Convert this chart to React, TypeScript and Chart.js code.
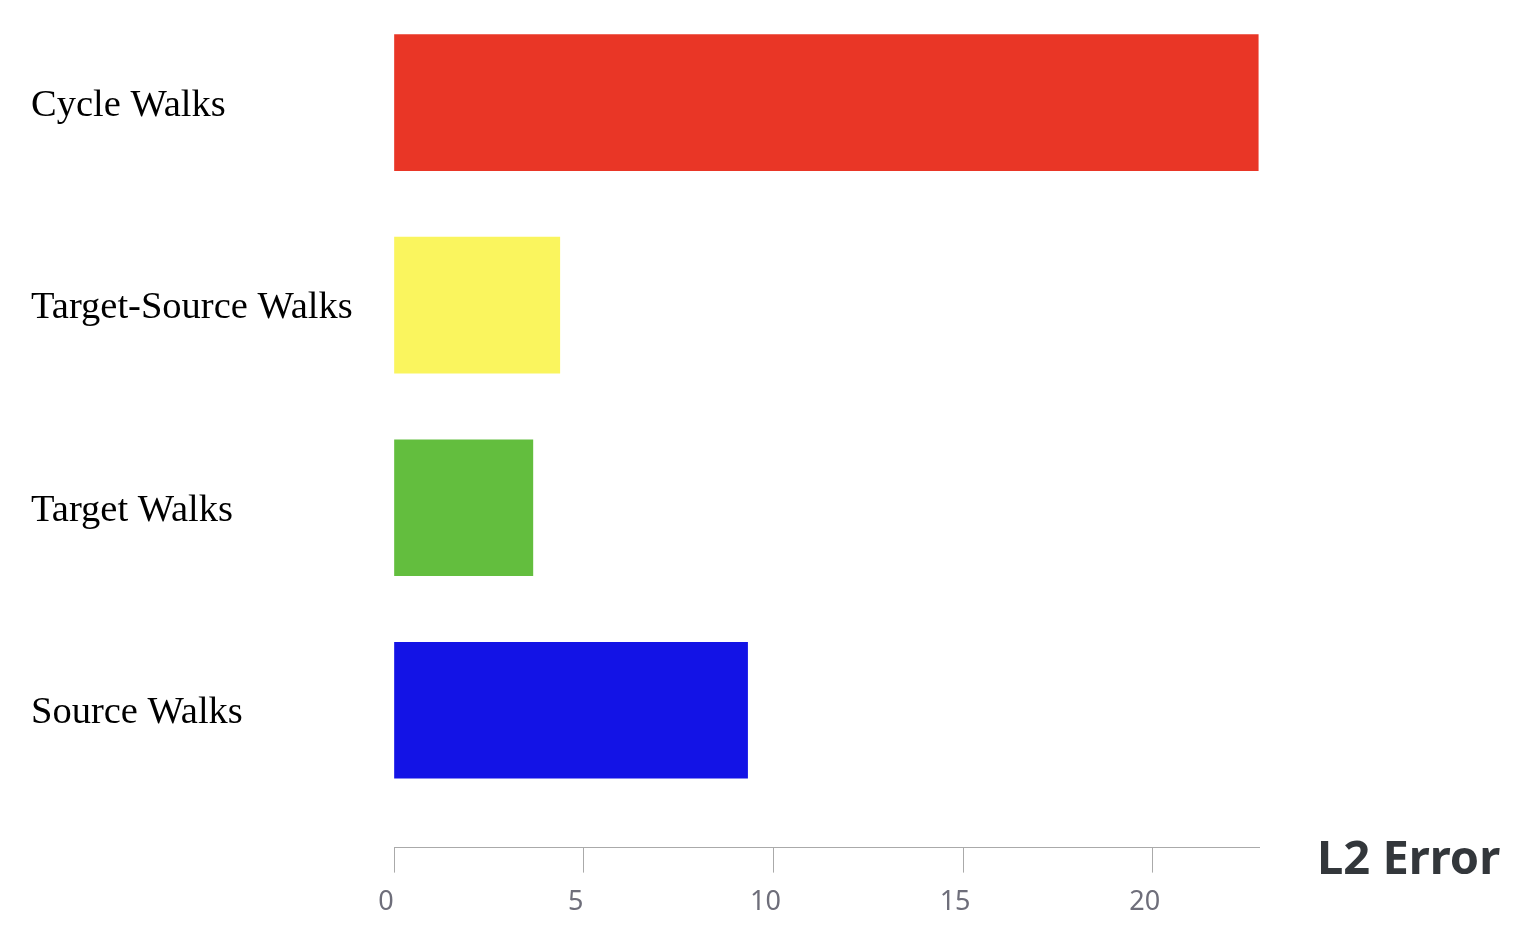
import React, { useEffect, useRef } from "react";
import { Chart, registerables } from "chart.js";

Chart.register(...registerables);

const categories: string[] = ["Cycle Walks", "Target-Source Walks", "Target Walks", "Source Walks"];
const values: number[] = [22.78, 4.37, 3.66, 9.32];
const barColors: string[] = ["#E93626", "#FAF55E", "#63BE3E", "#1313E6"];
const xTicks: number[] = [0, 5, 10, 15, 20];
const xTitle = "L2 Error";

const titlePlugin = {
  id: "xTitleRight",
  afterDraw(chart: any) {
    const ctx = chart.ctx;
    const area = chart.chartArea;
    ctx.save();
    ctx.font = "bold 47px 'Noto Sans'";
    ctx.fillStyle = "#33373B";
    ctx.textAlign = "left";
    ctx.textBaseline = "alphabetic";
    ctx.fillText(xTitle, area.right + 58, area.bottom + 26);
    ctx.restore();
  },
};

export default function App() {
  const ref = useRef<HTMLCanvasElement | null>(null);
  useEffect(() => {
    if (!ref.current) return;
    const chart = new Chart(ref.current, {
      type: "bar",
      data: {
        datasets: [
          {
            data: values.map((v, i) => ({ x: v, y: i })),
            backgroundColor: barColors,
            borderWidth: 0,
            barThickness: 136,
          },
        ],
      },
      options: {
        indexAxis: "y",
        animation: false,
        responsive: true,
        maintainAspectRatio: false,
        layout: { padding: { left: 23, right: 253, top: 0, bottom: 5 } },
        plugins: { legend: { display: false }, tooltip: { enabled: false } },
        scales: {
          x: {
            type: "linear",
            min: 0,
            max: 22.8,
            grid: { display: true, drawOnChartArea: false, tickLength: 25, color: "#AAAAAA", lineWidth: 1 },
            border: { display: true, color: "#AAAAAA", width: 1 },
            afterBuildTicks: (scale: any) => {
              scale.ticks = xTicks.map((v) => ({ value: v }));
            },
            ticks: {
              includeBounds: false,
              labelOffset: -8,
              padding: 14,
              color: "#6E6E7A",
              font: { family: "'Noto Sans'", size: 27 },
            },
          },
          y: {
            type: "linear",
            reverse: true,
            offset: false,
            min: -0.467,
            max: 3.678,
            grid: { display: false, offset: false },
            border: { display: false },
            afterBuildTicks: (scale: any) => {
              scale.ticks = categories.map((_, i) => ({ value: i }));
            },
            afterFit: (scale: any) => {
              scale.width = 363;
              scale.paddingTop = 0;
              scale.paddingBottom = 0;
            },
            ticks: {
              crossAlign: "far",
              labelOffset: 3,
              color: "#000000",
              font: { family: "'Liberation Serif', 'Times New Roman', serif", size: 38.5 },
              callback: (v: any) => categories[Math.round(Number(v))] ?? "",
            },
          },
        },
      },
      plugins: [titlePlugin],
    } as any);
    return () => chart.destroy();
  }, []);
  return (
    <div style={{ width: 1504, height: 930, position: "relative" }}>
      <canvas ref={ref} />
    </div>
  );
}
